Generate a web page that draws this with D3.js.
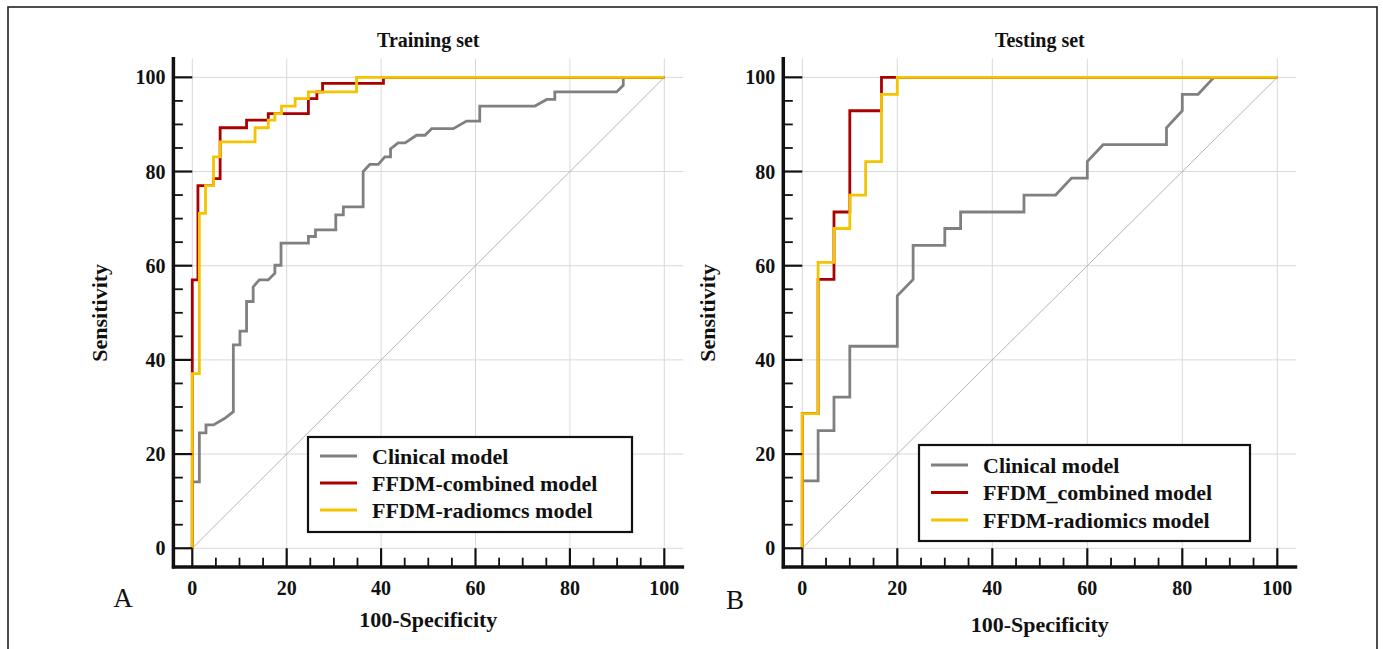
<!DOCTYPE html>
<html>
<head>
<meta charset="utf-8">
<script src="https://cdn.jsdelivr.net/npm/d3@7"></script>
<style>
  html, body { margin: 0; padding: 0; background: #fff; }
  svg { display: block; }
  text { font-family: "Liberation Serif", "Times New Roman", serif; }
</style>
</head>
<body>
<svg id="chart" width="1383" height="649"></svg>
<script>
// ---------------- DATA ----------------
const seriesNames = ["Clinical model", "FFDM-combined model", "FFDM-radiomcs model"];
const seriesNamesB = ["Clinical model", "FFDM_combined model", "FFDM-radiomics model"];
const panelTitles = ["Training set", "Testing set"];
const panelLetters = ["A", "B"];
const tickValues = [0, 20, 40, 60, 80, 100];

// Training set (A) – ROC step vertices (100-Specificity, Sensitivity)
const trainClinicalX = [0, 0, 1.5, 1.5, 2.9, 2.9, 4.5, 6.9, 8.7, 8.7, 10.1, 10.1, 11.5, 11.5, 12.9, 12.9, 14.2, 16.1, 17.5, 17.5, 18.8, 18.8, 24.6, 24.6, 26.1, 26.1, 30.4, 30.4, 32.0, 32.0, 36.2, 36.2, 37.6, 39.4, 40.8, 42.0, 42.0, 43.6, 45.1, 47.5, 49.3, 50.7, 55.3, 58.1, 60.9, 60.9, 72.6, 75.1, 76.8, 76.8, 89.9, 91.3, 91.3, 100];
const trainClinicalY = [0, 14.1, 14.1, 24.5, 24.5, 26.2, 26.2, 27.6, 29.0, 43.2, 43.2, 46.1, 46.1, 52.4, 52.4, 55.5, 57.0, 57.0, 58.4, 60.1, 60.1, 64.8, 64.8, 66.2, 66.2, 67.6, 67.6, 70.8, 70.8, 72.5, 72.5, 80.0, 81.5, 81.5, 83.1, 83.1, 84.8, 86.1, 86.1, 87.7, 87.7, 89.1, 89.1, 90.7, 90.7, 93.9, 93.9, 95.3, 95.3, 96.9, 96.9, 98.3, 100, 100];
const trainCombinedX = [0, 0, 1.2, 1.2, 4.5, 4.5, 5.9, 5.9, 11.5, 11.5, 16.1, 16.1, 24.6, 24.6, 26.4, 26.4, 27.6, 27.6, 40.5, 40.5, 100];
const trainCombinedY = [0, 57.0, 57.0, 77.0, 77.0, 78.5, 78.5, 89.3, 89.3, 90.9, 90.9, 92.3, 92.3, 95.5, 95.5, 96.9, 96.9, 98.7, 98.7, 100, 100];
const trainRadiomicsX = [0, 0, 1.5, 1.5, 2.8, 2.8, 4.5, 4.5, 5.9, 5.9, 13.3, 13.3, 16.1, 16.1, 17.5, 17.5, 18.9, 18.9, 21.8, 21.8, 24.6, 24.6, 34.8, 34.8, 100];
const trainRadiomicsY = [0, 37.1, 37.1, 71.1, 71.1, 77.0, 77.0, 83.1, 83.1, 86.3, 86.3, 89.3, 89.3, 90.9, 90.9, 92.3, 92.3, 93.9, 93.9, 95.5, 95.5, 96.9, 96.9, 100, 100];

// Testing set (B)
const testClinicalX = [0, 0, 3.33, 3.33, 6.67, 6.67, 10, 10, 20, 20, 23.33, 23.33, 30, 30, 33.33, 33.33, 46.67, 46.67, 53.33, 56.67, 60, 60, 63.33, 76.67, 76.67, 80, 80, 83.33, 86.67, 100];
const testClinicalY = [0, 14.3, 14.3, 25, 25, 32.1, 32.1, 42.9, 42.9, 53.6, 57.1, 64.3, 64.3, 67.9, 67.9, 71.4, 71.4, 75, 75, 78.6, 78.6, 82.1, 85.7, 85.7, 89.3, 92.9, 96.4, 96.4, 100, 100];
const testCombinedX = [0, 0, 3.33, 3.33, 6.67, 6.67, 10, 10, 16.67, 16.67, 100];
const testCombinedY = [0, 28.6, 28.6, 57.1, 57.1, 71.4, 71.4, 92.9, 92.9, 100, 100];
const testRadiomicsX = [0, 0, 3.33, 3.33, 6.67, 6.67, 10, 10, 13.33, 13.33, 16.67, 16.67, 20, 20, 100];
const testRadiomicsY = [0, 28.6, 28.6, 60.7, 60.7, 67.9, 67.9, 75, 75, 82.1, 82.1, 96.4, 96.4, 100, 100];

const colors = ["#808080", "#aa0000", "#f5c400"];

// ---------------- DRAW ----------------
const svg = d3.select("#chart");
svg.append("rect").attr("x", 8).attr("y", 7).attr("width", 1369).attr("height", 700)
  .attr("fill", "none").attr("stroke", "#222").attr("stroke-width", 1.6);

const zip = (xs, ys) => xs.map((x, i) => [x, ys[i]]);

const panels = [
  {
    title: panelTitles[0], letter: panelLetters[0], names: seriesNames,
    xRange: [173.4, 683.2], yRange: [567.1, 58.5],
    series: [zip(trainClinicalX, trainClinicalY), zip(trainCombinedX, trainCombinedY), zip(trainRadiomicsX, trainRadiomicsY)],
    legend: { x: 308, y: 437, w: 324, h: 95, row0: 456, step: 27 },
    ylabX: 99, xlabY: 627, letterX: 123, letterY: 607
  },
  {
    title: panelTitles[1], letter: panelLetters[1], names: seriesNamesB,
    xRange: [783.3, 1296.3], yRange: [567.1, 58.5],
    series: [zip(testClinicalX, testClinicalY), zip(testCombinedX, testCombinedY), zip(testRadiomicsX, testRadiomicsY)],
    legend: { x: 919, y: 445, w: 331, h: 96, row0: 465, step: 27.5 },
    ylabX: 707, xlabY: 632, letterX: 735, letterY: 609
  }
];

panels.forEach(p => {
  const x = d3.scaleLinear().domain([-4, 104]).range(p.xRange);
  const y = d3.scaleLinear().domain([-4, 104]).range(p.yRange);
  const g = svg.append("g");

  // grid
  g.selectAll(".vg").data(tickValues).join("line")
    .attr("x1", d => x(d)).attr("x2", d => x(d))
    .attr("y1", y(-4)).attr("y2", y(104))
    .attr("stroke", "#d9d9d9").attr("stroke-width", 1);
  g.selectAll(".hg").data(tickValues).join("line")
    .attr("y1", d => y(d)).attr("y2", d => y(d))
    .attr("x1", x(-4)).attr("x2", x(104))
    .attr("stroke", "#d9d9d9").attr("stroke-width", 1);

  // diagonal reference
  g.append("line").attr("x1", x(0)).attr("y1", y(0)).attr("x2", x(100)).attr("y2", y(100))
    .attr("stroke", "#b5b5b5").attr("stroke-width", 1);

  // curves
  const line = d3.line().x(d => x(d[0])).y(d => y(d[1]));
  p.series.forEach((s, i) => {
    g.append("path").datum(s).attr("d", line)
      .attr("fill", "none").attr("stroke", colors[i]).attr("stroke-width", 2.8)
      .attr("stroke-linejoin", "miter");
  });

  // axes (custom, inward ticks)
  const minor = d3.range(0, 101, 5).filter(v => v % 20 !== 0);
  const ax = g.append("g");
  ax.append("line").attr("x1", x(-4)).attr("x2", x(-4)).attr("y1", y(104.3)).attr("y2", y(-4) + 1.5)
    .attr("stroke", "#111").attr("stroke-width", 3.5);
  ax.append("line").attr("x1", x(-4) - 1.5).attr("x2", x(104.2)).attr("y1", y(-4)).attr("y2", y(-4))
    .attr("stroke", "#111").attr("stroke-width", 3.5);
  // y ticks
  ax.selectAll(".ytM").data(tickValues).join("line")
    .attr("x1", x(-4)).attr("x2", x(0)).attr("y1", d => y(d)).attr("y2", d => y(d))
    .attr("stroke", "#111").attr("stroke-width", 2.2);
  ax.selectAll(".ytm").data(minor).join("line")
    .attr("x1", x(-4)).attr("x2", x(-2)).attr("y1", d => y(d)).attr("y2", d => y(d))
    .attr("stroke", "#111").attr("stroke-width", 1.8);
  // x ticks
  ax.selectAll(".xtM").data(tickValues).join("line")
    .attr("y1", y(-4)).attr("y2", y(0)).attr("x1", d => x(d)).attr("x2", d => x(d))
    .attr("stroke", "#111").attr("stroke-width", 2.2);
  ax.selectAll(".xtm").data(minor).join("line")
    .attr("y1", y(-4)).attr("y2", y(-2)).attr("x1", d => x(d)).attr("x2", d => x(d))
    .attr("stroke", "#111").attr("stroke-width", 1.8);

  // tick labels
  ax.selectAll(".ytl").data(tickValues).join("text")
    .attr("x", x(-4) - 8).attr("y", d => y(d)).attr("dy", "0.35em")
    .attr("text-anchor", "end").attr("font-size", 20).attr("font-weight", "bold").attr("fill", "#111")
    .text(d => d);
  ax.selectAll(".xtl").data(tickValues).join("text")
    .attr("x", d => x(d)).attr("y", y(-4) + 21).attr("dy", "0.35em")
    .attr("text-anchor", "middle").attr("font-size", 20).attr("font-weight", "bold").attr("fill", "#111")
    .text(d => d);

  // titles
  const cx = (x(0) + x(100)) / 2;
  g.append("text").attr("x", cx).attr("y", 47).attr("text-anchor", "middle")
    .attr("font-size", 20).attr("font-weight", "bold").attr("fill", "#111").text(p.title);
  g.append("text").attr("x", cx).attr("y", p.xlabY).attr("text-anchor", "middle")
    .attr("font-size", 22).attr("font-weight", "bold").attr("fill", "#111").text("100-Specificity");
  g.append("text").attr("transform", `translate(${p.ylabX},${(y(0) + y(100)) / 2}) rotate(-90)`)
    .attr("text-anchor", "middle").attr("dy", "0.35em")
    .attr("font-size", 22).attr("font-weight", "bold").attr("fill", "#111").text("Sensitivity");
  g.append("text").attr("x", p.letterX).attr("y", p.letterY).attr("text-anchor", "middle")
    .attr("font-size", 27).attr("fill", "#111").text(p.letter);

  // legend
  const L = p.legend;
  const lg = g.append("g");
  lg.append("rect").attr("x", L.x).attr("y", L.y).attr("width", L.w).attr("height", L.h)
    .attr("fill", "#fff").attr("stroke", "#111").attr("stroke-width", 2.2);
  p.names.forEach((n, i) => {
    const ry = L.row0 + i * L.step;
    lg.append("line").attr("x1", L.x + 12).attr("x2", L.x + 49).attr("y1", ry).attr("y2", ry)
      .attr("stroke", colors[i]).attr("stroke-width", 2.8);
    lg.append("text").attr("x", L.x + 64).attr("y", ry).attr("dy", "0.35em")
      .attr("font-size", 22).attr("font-weight", "bold").attr("fill", "#111").text(n);
  });
});
</script>
</body>
</html>
